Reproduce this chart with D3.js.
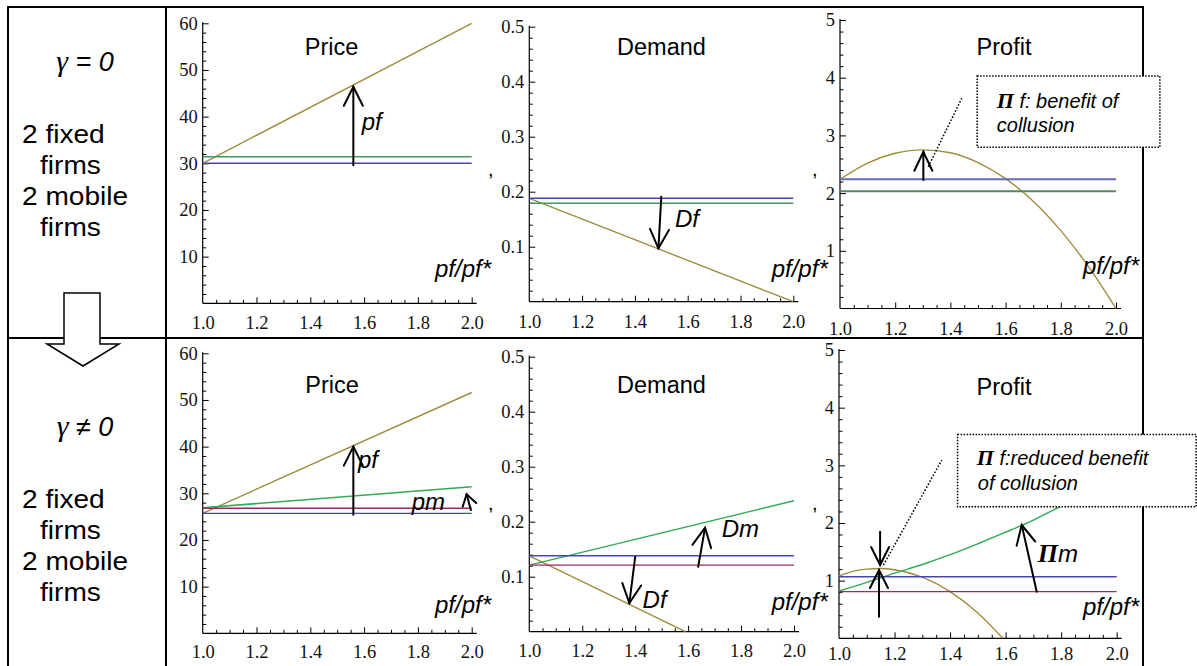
<!DOCTYPE html>
<html><head><meta charset="utf-8">
<script src="https://cdn.jsdelivr.net/npm/d3@7/dist/d3.min.js"></script>
<style>
body{margin:0;background:#fff;}
svg{display:block;}
</style></head><body>
<svg id="c" width="1197" height="666"></svg>
<script>
// ---------- data ----------
const xTicks = [1.0, 1.2, 1.4, 1.6, 1.8, 2.0];
const priceTicks = [10, 20, 30, 40, 50, 60];
const demandTicks = [0.1, 0.2, 0.3, 0.4, 0.5];
const profitTicks = [1, 2, 3, 4, 5];
const xEnds = [1.0, 2.0];

// top row (gamma = 0)
const priceTopGold = [30, 60];
const priceTopGreen = [31.4, 31.4];
const priceTopBlue = [30, 30];
const demandTopGold = [0.188, 0.0];
const demandTopBlue = [0.188, 0.188];
const demandTopGreen = [0.179, 0.179];
const profitTopX = [1.0, 1.1, 1.2, 1.3, 1.4, 1.5, 1.6, 1.7, 1.8, 1.9, 2.0];
const profitTopGold = [2.24, 2.52, 2.69, 2.75, 2.70, 2.53, 2.25, 1.86, 1.35, 0.73, 0.0];
const profitTopBlue = [2.24, 2.24];
const profitTopGreen = [2.03, 2.03];

// bottom row (gamma != 0)
const priceBotGold = [25.7, 51.6];
const priceBotGreen = [26.9, 31.4];
const priceBotRed = [26.8, 26.8];
const priceBotBlue = [25.7, 25.7];
const demandBotGoldX = [1.0, 1.59];
const demandBotGold = [0.138, 0.0];
const demandBotGreen = [0.121, 0.238];
const demandBotBlue = [0.138, 0.138];
const demandBotRed = [0.121, 0.121];
const profitBotGoldX = [1.0, 1.05, 1.1, 1.15, 1.2, 1.3, 1.4, 1.5, 1.59];
const profitBotGold = [1.08, 1.16, 1.20, 1.21, 1.19, 1.06, 0.81, 0.44, 0.0];
const profitBotGreenX = [1.0, 1.1, 1.2, 1.3, 1.4, 1.5, 1.6, 1.7, 1.8, 1.9, 2.0];
const profitBotGreen = [0.82, 0.97, 1.13, 1.28, 1.45, 1.64, 1.84, 2.05, 2.29, 2.50, 2.72];
const profitBotBlue = [1.068, 1.068];
const profitBotRed = [0.81, 0.81];

// ---------- styles ----------
const C = {gold:'#a08c3c', blue:'#4646aa', green:'#3e9a5a', green2:'#2faa55', red:'#a02860', blueTop:'#6868b8', greenTop:'#4f8a60'};
const SANS = 'Liberation Sans, Arial, sans-serif';
const SERIF = 'Liberation Serif, Times New Roman, serif';

const svg = d3.select('#c');

// ---------- frame ----------
const frame = svg.append('g').attr('stroke','#000').attr('stroke-width',2);
frame.append('line').attr('x1',8).attr('x2',1144).attr('y1',7).attr('y2',7);
frame.append('line').attr('x1',8).attr('x2',1144).attr('y1',338).attr('y2',338);
frame.append('line').attr('x1',8).attr('x2',8).attr('y1',6).attr('y2',666);
frame.append('line').attr('x1',166).attr('x2',166).attr('y1',6).attr('y2',666);
frame.append('line').attr('x1',1143).attr('x2',1143).attr('y1',6).attr('y2',666);

// block arrow in left column
svg.append('polygon')
  .attr('points','64,293 100,293 100,344 119,344 83,366 47,344 64,344')
  .attr('fill','#fff').attr('stroke','#000').attr('stroke-width',1.5);

// left column text
function leftText(yBase, gammaText){
  const g = svg.append('g');
  const gt = g.append('text').attr('x',85).attr('y',yBase).attr('text-anchor','middle')
    .attr('font-family',SANS).attr('font-style','italic').attr('font-size',27);
  gt.append('tspan').attr('font-family',SERIF).attr('font-size',30).text('γ');
  gt.append('tspan').text(gammaText);
  const lines = [['2 fixed',22,72],['firms',40,103],['2 mobile',22,134],['firms',40,165]];
  lines.forEach(([t,x,dy])=>{
    g.append('text').attr('transform',`translate(${x},${yBase+dy}) scale(1.08,1)`)
      .attr('font-family',SANS).attr('font-size',26).attr('fill','#000').text(t);
  });
}
leftText(71, ' = 0');
leftText(436, ' ≠ 0');

// ---------- chart helper ----------
function chart(cfg){
  const x = d3.scaleLinear().domain([1,2]).range([cfg.left, cfg.right]);
  const y = d3.scaleLinear().domain([0, cfg.ymax]).range([cfg.bottom, cfg.top]);
  const g = svg.append('g');

  // x axis
  const xMinor = d3.range(0,21).map(i=>+(1+i*0.05).toFixed(2)).filter(v=>!xTicks.some(t=>Math.abs(t-v)<1e-9));
  const xa = g.append('g').attr('transform',`translate(0,${cfg.bottom})`)
    .call(d3.axisBottom(x).tickValues(xTicks).tickSize(-6).tickSizeOuter(0).tickPadding(cfg.xPad||13).tickFormat(d3.format('.1f')));
  xa.select('.domain').remove();
  xa.selectAll('.tick line').filter(d=>d===1).remove();
  const xm = g.append('g').attr('transform',`translate(0,${cfg.bottom})`)
    .call(d3.axisBottom(x).tickValues(xMinor).tickSize(-3.5).tickSizeOuter(0).tickFormat(''));
  xm.select('.domain').remove();
  g.append('line').attr('x1',x(1)).attr('x2',x(2)+5).attr('y1',cfg.bottom).attr('y2',cfg.bottom)
    .attr('stroke','#000').attr('stroke-width',1.2);

  // y axis
  const nMinor = Math.round(cfg.ymax/cfg.minor);
  const yMinor = d3.range(1,nMinor+1).map(i=>+(i*cfg.minor).toFixed(4)).filter(v=>!cfg.yTicks.some(t=>Math.abs(t-v)<1e-9));
  const ya = g.append('g').attr('transform',`translate(${cfg.left},0)`)
    .call(d3.axisLeft(y).tickValues(cfg.yTicks).tickSize(-6).tickSizeOuter(0).tickPadding(5).tickFormat(cfg.fmt));
  ya.select('.domain').remove();
  const ym = g.append('g').attr('transform',`translate(${cfg.left},0)`)
    .call(d3.axisLeft(y).tickValues(yMinor).tickSize(-3.5).tickSizeOuter(0).tickFormat(''));
  ym.select('.domain').remove();
  g.append('line').attr('x1',cfg.left).attr('x2',cfg.left).attr('y1',cfg.bottom).attr('y2',y(cfg.ymax)-1)
    .attr('stroke','#000').attr('stroke-width',1.2);

  [xa,ya].forEach(a=>a.attr('font-family',SERIF).attr('font-size',18.5).selectAll('text').attr('fill','#111'));
  g.selectAll('.tick line').attr('stroke','#000').attr('stroke-width',1);

  // series
  const line = d3.line().x(d=>x(d[0])).y(d=>y(d[1])).curve(d3.curveMonotoneX);
  cfg.series.forEach(s=>{
    g.append('path').datum(s.xs.map((v,i)=>[v,s.ys[i]]))
      .attr('d', line).attr('fill','none').attr('stroke', s.color).attr('stroke-width', s.w||1.4);
  });

  // title
  g.append('text').attr('x',cfg.titleX).attr('y',cfg.titleY).attr('text-anchor','middle')
    .attr('font-family',SANS).attr('font-size',23.5).text(cfg.title);
  // axis label
  g.append('text').attr('x',cfg.labX).attr('y',cfg.labY)
    .attr('font-family',SANS).attr('font-style','italic').attr('font-size',24).text('pf/pf*');
  return {g,x,y};
}

function arrow(c, x1,y1,x2,y2, len=19, half=9.5, w=2){
  const px1=c.x(x1), py1=c.y(y1), px2=c.x(x2), py2=c.y(y2);
  const dx=px1-px2, dy=py1-py2, L=Math.hypot(dx,dy), ux=dx/L, uy=dy/L;
  const g = c.g.append('g').attr('stroke','#000').attr('stroke-width',w).attr('fill','none').attr('stroke-linecap','round');
  g.append('line').attr('x1',px1).attr('y1',py1).attr('x2',px2).attr('y2',py2);
  const bx=px2+ux*len, by=py2+uy*len;
  g.append('polyline').attr('points',`${bx-uy*half},${by+ux*half} ${px2},${py2} ${bx+uy*half},${by-ux*half}`);
}
function label(c, xv, yv, parts, size=24){
  const t = c.g.append('text').attr('x',c.x(xv)).attr('y',c.y(yv)).attr('font-size',size).attr('font-style','italic');
  parts.forEach(p=>{
    const ts = t.append('tspan').text(p.t).attr('font-family', p.pi?SERIF:SANS);
    if(p.pi){ ts.attr('font-weight','bold').attr('font-size', size+2); }
  });
  return t;
}
function dotted(c, x1,y1,x2,y2){
  c.g.append('line').attr('x1',c.x(x1)).attr('y1',c.y(y1)).attr('x2',c.x(x2)).attr('y2',c.y(y2))
    .attr('stroke','#000').attr('stroke-width',1.5).attr('stroke-dasharray','1.6,1.8');
}
function box(c, xa,ya,xb,yb){
  c.g.append('rect').attr('x',c.x(xa)).attr('y',c.y(ya)).attr('width',c.x(xb)-c.x(xa)).attr('height',c.y(yb)-c.y(ya))
    .attr('fill','#fff').attr('stroke','#000').attr('stroke-width',1.5).attr('stroke-dasharray','1.5,1.5');
}
const pfmt = d3.format('d'), dfmt = d3.format('.1f');

// ---------- top row ----------
const tp = chart({left:202.7,right:471.7,bottom:303.3,top:23.3,ymax:60,minor:2,yTicks:priceTicks,fmt:pfmt,
  title:'Price',titleX:331.5,titleY:55,labX:435,labY:277,
  series:[{xs:xEnds,ys:priceTopGold,color:C.gold},{xs:xEnds,ys:priceTopGreen,color:C.green,w:1.7},{xs:xEnds,ys:priceTopBlue,color:C.blue}]});
arrow(tp,1.56,29.6,1.56,46.4);
label(tp,1.591,37.1,[{t:'pf'}]);

const td = chart({left:529.3,right:793.3,bottom:301.7,top:26.7,ymax:0.5,minor:0.02,yTicks:demandTicks,fmt:dfmt,
  title:'Demand',titleX:661.5,titleY:55,labX:771.7,labY:277,
  series:[{xs:xEnds,ys:demandTopGold,color:C.gold},{xs:xEnds,ys:demandTopBlue,color:C.blue},{xs:xEnds,ys:demandTopGreen,color:C.green}]});
arrow(td,1.50,0.191,1.489,0.097);
label(td,1.552,0.136,[{t:'Df'}]);

const tf = chart({left:840,right:1116,bottom:308.5,top:20,ymax:5,minor:0.2,yTicks:profitTicks,fmt:pfmt,
  title:'Profit',titleX:1004,titleY:55,labX:1083,labY:274,
  series:[{xs:profitTopX,ys:profitTopGold,color:C.gold},{xs:xEnds,ys:profitTopBlue,color:C.blueTop,w:2},{xs:xEnds,ys:profitTopGreen,color:C.greenTop,w:2}]});
arrow(tf,1.302,2.227,1.302,2.717,19,9);
dotted(tf,1.32,2.457,1.441,3.643);
box(tf,1.497,4.03,2.159,2.794);
label(tf,1.568,3.475,[{t:'Π',pi:true},{t:' f: benefit of'}],20);
label(tf,1.568,3.06,[{t:'collusion'}],20);

// ---------- bottom row ----------
const bp = chart({left:202.7,right:471.7,bottom:633.3,top:353.3,ymax:60,minor:2,yTicks:priceTicks,fmt:pfmt,
  title:'Price',titleX:332,titleY:393,labX:435,labY:613,xPad:12,
  series:[{xs:xEnds,ys:priceBotGold,color:C.gold},{xs:xEnds,ys:priceBotGreen,color:C.green2,w:1.6},{xs:xEnds,ys:priceBotRed,color:C.red},{xs:xEnds,ys:priceBotBlue,color:C.blue}]});
arrow(bp,1.56,25.4,1.56,40.0);
label(bp,1.577,35.4,[{t:'pf'}]);
label(bp,1.777,26.4,[{t:'pm'}]);
arrow(bp,1.997,26.4,1.981,29.8,11,7);

const bd = chart({left:529.3,right:794,bottom:631.7,top:356.7,ymax:0.5,minor:0.02,yTicks:demandTicks,fmt:dfmt,
  title:'Demand',titleX:661.5,titleY:393,labX:771.7,labY:610,xPad:12,
  series:[{xs:demandBotGoldX,ys:demandBotGold,color:C.gold},{xs:xEnds,ys:demandBotGreen,color:C.green2},{xs:xEnds,ys:demandBotBlue,color:C.blue},{xs:xEnds,ys:demandBotRed,color:C.red}]});
arrow(bd,1.40,0.136,1.378,0.052);
label(bd,1.428,0.0425,[{t:'Df'}]);
arrow(bd,1.638,0.118,1.664,0.189);
label(bd,1.727,0.173,[{t:'Dm'}]);

const bf = chart({left:839,right:1116.7,bottom:638.3,top:350,ymax:5,minor:0.2,yTicks:profitTicks,fmt:pfmt,
  title:'Profit',titleX:1004,titleY:395,labX:1083,labY:615,xPad:9,
  series:[{xs:profitBotGoldX,ys:profitBotGold,color:C.gold},{xs:profitBotGreenX,ys:profitBotGreen,color:C.green2},{xs:xEnds,ys:profitBotBlue,color:C.blue},{xs:xEnds,ys:profitBotRed,color:C.red}]});
arrow(bf,1.148,1.847,1.148,1.27,18,9);
arrow(bf,1.144,0.374,1.144,1.184,18,9);
arrow(bf,1.712,0.808,1.658,1.964);
label(bf,1.7155,1.328,[{t:'Π',pi:true},{t:'m'}]);
dotted(bf,1.16,1.27,1.37,3.09);
box(bf,1.427,3.535,2.286,2.281);
label(bf,1.496,3.003,[{t:'Π',pi:true},{t:' f:reduced benefit'}],20);
label(bf,1.50,2.57,[{t:'of  collusion'}],20);

// list separators between the graphics
[[488,176],[812,176],[488,510],[812,510]].forEach(([cx,cy])=>{
  svg.append('text').attr('x',cx).attr('y',cy).attr('font-family',SANS).attr('font-size',20).text(',');
});
</script>
</body></html>
